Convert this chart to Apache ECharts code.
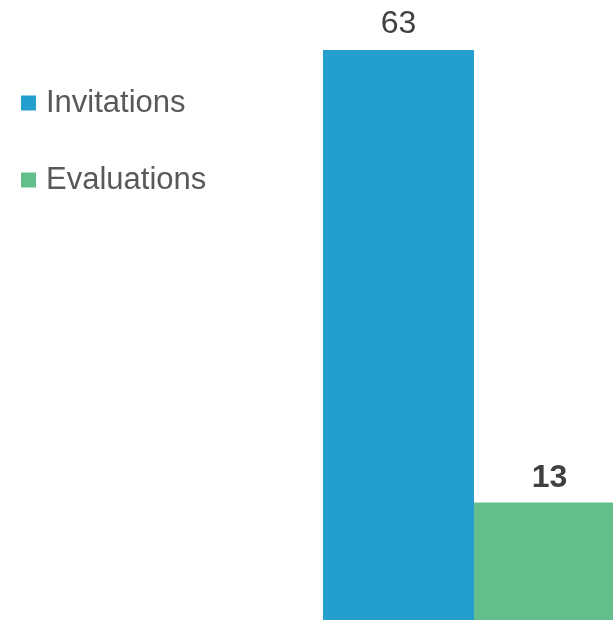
<!DOCTYPE html>
<html><head><meta charset="utf-8">
<script src="https://cdn.jsdelivr.net/npm/echarts@6/dist/echarts.min.js"></script>
<style>html,body{margin:0;padding:0;background:#fff;overflow:hidden}#c{width:625px;height:620px}</style>
</head><body><div id="c"></div>
<script>
const categories = [''];
const seriesNames = ['Invitations', 'Evaluations'];
const invitations = [63];
const evaluations = [13];
const colors = ['#249ecd', '#62bf8b'];
const FONT = '"Liberation Sans", Arial, sans-serif';

const chart = echarts.init(document.getElementById('c'));
chart.setOption({
  animation: false,
  textStyle: { fontFamily: FONT },
  legend: {
    orient: 'vertical', left: 16, top: 82,
    itemWidth: 15, itemHeight: 15, itemGap: 45,
    icon: 'rect',
    textStyle: { fontFamily: FONT, fontSize: 31, color: '#595959', lineHeight: 32, padding: [0, 0, 0, 5] },
    data: seriesNames
  },
  grid: { left: 323, right: 0, top: 50, bottom: 0 },
  xAxis: { type: 'category', data: categories, show: false },
  yAxis: { type: 'value', min: 0, max: 63, show: false },
  series: [
    { name: seriesNames[0], type: 'bar', data: invitations, barGap: '0%', barCategoryGap: '0%',
      itemStyle: { color: colors[0] },
      label: { show: true, position: 'top', distance: 10, fontFamily: FONT, fontSize: 32, color: '#404040' } },
    { name: seriesNames[1], type: 'bar', data: evaluations, barGap: '0%', barCategoryGap: '0%',
      itemStyle: { color: colors[1] },
      label: { show: true, position: 'top', distance: 8, fontFamily: FONT, fontSize: 32, fontWeight: 'bold', color: '#404040' } }
  ]
});
</script></body></html>
